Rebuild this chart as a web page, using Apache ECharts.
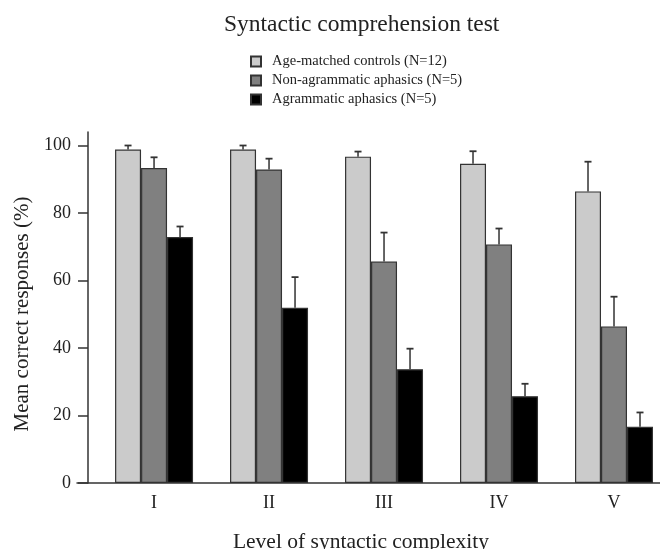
<!DOCTYPE html>
<html><head><meta charset="utf-8">
<script src="https://cdn.jsdelivr.net/npm/echarts@6/dist/echarts.min.js"></script>
<style>html,body{margin:0;padding:0;background:#fff}#c{width:660px;height:549px}</style>
</head><body><div id="c"></div>
<script>
const categories = ['I', 'II', 'III', 'IV', 'V'];
const seriesNames = ['Age-matched controls (N=12)', 'Non-agrammatic aphasics (N=5)', 'Agrammatic aphasics (N=5)'];
const controls = [98.8, 98.8, 96.7, 94.6, 86.4];
const nonAgrammatic = [93.3, 92.9, 65.6, 70.7, 46.4];
const agrammatic = [72.9, 51.9, 33.7, 25.7, 16.7];
const controlsErr = [1.2, 1.2, 1.5, 3.7, 8.8];
const nonAgrammaticErr = [3.2, 3.2, 8.6, 4.7, 8.8];
const agrammaticErr = [3.1, 9.1, 6.1, 3.7, 4.2];
const yTicks = [0, 20, 40, 60, 80, 100];

const FONT = '"Liberation Serif", "DejaVu Serif", serif';
const TXT = '#222';
const BAR_W = 26;
const colors = ['#cbcbcb', '#808080', '#000000'];
const values = [controls, nonAgrammatic, agrammatic];
const errs = [controlsErr, nonAgrammaticErr, agrammaticErr];
const xPos = categories.map((c, i) => i + 1);

const barSeries = values.map((vals, s) => ({
  name: seriesNames[s],
  type: 'bar',
  barWidth: BAR_W,
  barGap: '0%',
  data: vals.map((v, i) => [xPos[i], v]),
  itemStyle: { color: colors[s], borderColor: '#333', borderWidth: 1.2 },
  z: 2
}));

const errSeries = values.map((vals, s) => ({
  name: 'err' + s,
  type: 'custom',
  silent: true,
  z: 1,
  data: vals.map((v, i) => [xPos[i], v, v + errs[s][i]]),
  encode: { x: 0, y: [1, 2] },
  renderItem: function (params, api) {
    const x = api.value(0);
    const p0 = api.coord([x, api.value(1)]);
    const p1 = api.coord([x, api.value(2)]);
    const cx = p0[0] + (s - 1) * BAR_W;
    return {
      type: 'group',
      children: [
        { type: 'line', shape: { x1: cx, y1: p0[1], x2: cx, y2: p1[1] }, style: { stroke: '#333', lineWidth: 1.5 } },
        { type: 'line', shape: { x1: cx - 3.5, y1: p1[1], x2: cx + 3.5, y2: p1[1] }, style: { stroke: '#333', lineWidth: 1.8 } }
      ]
    };
  }
}));

const chart = echarts.init(document.getElementById('c'));
chart.setOption({
  animation: false,
  backgroundColor: '#fff',
  title: {
    text: 'Syntactic comprehension test',
    left: 219, top: 8,
    textStyle: { fontFamily: FONT, fontSize: 23.5, fontWeight: 'normal', color: TXT }
  },
  legend: {
    orient: 'vertical', left: 245, top: 49,
    itemWidth: 10, itemHeight: 10, itemGap: 4, icon: 'rect',
    selectedMode: false,
    data: seriesNames,
    textStyle: { fontFamily: FONT, fontSize: 14.5, color: TXT, lineHeight: 14, padding: [0, 0, 0, 6] }
  },
  grid: { left: 77, right: 0, top: 132, bottom: 66, outerBoundsMode: 'none', containLabel: false },
  xAxis: {
    type: 'value', min: 0.33, max: 5.4,
    axisLine: { onZero: false, lineStyle: { color: '#333', width: 1.5 } },
    axisTick: { show: false },
    splitLine: { show: false },
    axisLabel: {
      customValues: xPos,
      formatter: v => categories[Math.round(v) - 1],
      margin: 11, fontFamily: FONT, fontSize: 18, color: TXT
    },
    name: 'Level of syntactic complexity',
    nameLocation: 'middle', nameGap: 48,
    nameTextStyle: { fontFamily: FONT, fontSize: 21.5, color: TXT, padding: [0, 15, 0, 0] }
  },
  yAxis: {
    type: 'value', min: 0, max: 104, offset: -11,
    axisLine: { show: true, lineStyle: { color: '#333', width: 1.5 } },
    axisTick: { show: true, length: 10, customValues: yTicks, lineStyle: { color: '#333', width: 1.5 } },
    splitLine: { show: false },
    axisLabel: { customValues: yTicks, margin: 17, fontFamily: FONT, fontSize: 18, color: TXT },
    name: 'Mean correct responses (%)',
    nameLocation: 'middle', nameRotate: 90, nameGap: 52,
    nameTextStyle: { fontFamily: FONT, fontSize: 21, color: TXT, padding: [0, 13, 0, 0] }
  },
  series: barSeries.concat(errSeries)
});
</script></body></html>
